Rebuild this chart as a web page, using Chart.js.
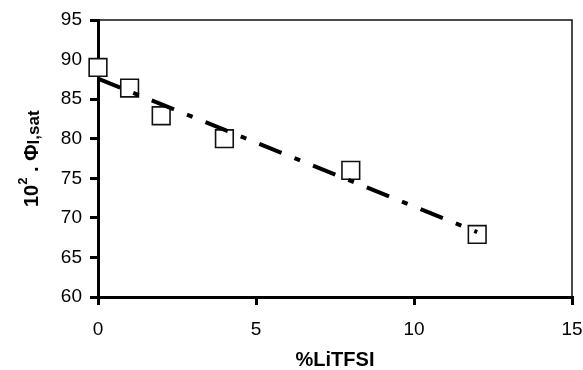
<!DOCTYPE html>
<html>
<head>
<meta charset="utf-8">
<script src="https://cdn.jsdelivr.net/npm/chart.js@4.4.1/dist/chart.umd.min.js"></script>
<style>
  html, body { margin: 0; padding: 0; background: #fff; }
</style>
</head>
<body>
<canvas id="grafico" width="583" height="370"></canvas>
<script>
// Dados
const pctLiTFSI = [0, 1, 2, 4, 8, 12];
const phiSat = [89, 86.4, 82.9, 80, 76, 67.9];

// Linha de tendência (extremos)
const tendenciaX = [0, 12];
const tendenciaY = [87.6, 68.2];

// Eixos
const eixoX = { min: 0, max: 15, passo: 5 };
const eixoY = { min: 60, max: 95, passo: 5 };

const tituloX = '%LiTFSI';

const FONTE = '"Liberation Sans", Arial, sans-serif';

// =========================================
// Plugin: moldura + títulos dos eixos
// =========================================
const extras = {
    id: 'extras',
    beforeDraw(chart) {
        const c = chart.ctx;
        c.save();
        c.fillStyle = '#fff';
        c.fillRect(0, 0, chart.width, chart.height);
        c.restore();
    },
    beforeDatasetsDraw(chart) {
        const c = chart.ctx;
        const a = chart.chartArea;
        c.save();
        c.strokeStyle = '#111';
        c.lineWidth = 1.5;
        c.beginPath();
        c.moveTo(a.left, a.top);
        c.lineTo(a.right, a.top);
        c.lineTo(a.right, a.bottom);
        c.stroke();
        c.restore();
    },
    afterDraw(chart) {
        const c = chart.ctx;
        const a = chart.chartArea;
        c.save();
        c.fillStyle = '#000';

        // título do eixo X
        c.font = 'bold 20px ' + FONTE;
        c.textAlign = 'center';
        c.textBaseline = 'alphabetic';
        c.fillText(tituloX, (a.left + a.right) / 2, 366);

        // título do eixo Y (rodado, com expoente e índice)
        c.translate(38, 207);
        c.rotate(-Math.PI / 2);
        c.textAlign = 'left';
        let x = 0;
        const pedaco = (txt, tam, dy) => {
            c.font = 'bold ' + tam + 'px ' + FONTE;
            c.fillText(txt, x, dy);
            x += c.measureText(txt).width;
        };
        pedaco('10', 20, 0);
        pedaco('2', 13, -11);
        pedaco(' . ', 20, 0);
        pedaco('\u03A6', 20, 0);
        pedaco('l,sat', 17, 1);
        c.restore();
    }
};

const ctx = document.getElementById('grafico').getContext('2d');

new Chart(ctx, {
    type: 'scatter',
    plugins: [extras],
    data: {
        datasets: [{
            label: 'tendência',
            data: tendenciaX.map((x, i) => ({ x: x, y: tendenciaY[i] })),
            showLine: true,
            borderColor: '#000',
            borderWidth: 4,
            borderDash: [24, 14, 6, 14],
            pointRadius: 0,
            fill: false,
            order: 0,
            clip: false
        }, {
            label: 'phi',
            data: pctLiTFSI.map((x, i) => ({ x: x, y: phiSat[i] })),
            pointStyle: 'rect',
            pointRadius: 12.5,
            pointBackgroundColor: '#fff',
            pointBorderColor: '#111',
            pointBorderWidth: 1.6,
            showLine: false,
            order: 1,
            clip: false
        }]
    },
    options: {
        responsive: false,
        animation: false,
        devicePixelRatio: 1,
        layout: { autoPadding: false, padding: { left: 0, top: 20, right: 0, bottom: 0 } },
        plugins: {
            legend: { display: false },
            tooltip: { enabled: false }
        },
        scales: {
            x: {
                type: 'linear',
                min: eixoX.min,
                max: eixoX.max,
                afterFit: s => {
                    s.height = 73;
                    s.paddingLeft = 0;
                    s.paddingRight = 11;
                },
                ticks: {
                    stepSize: eixoX.passo,
                    color: '#000',
                    padding: 13,
                    maxRotation: 0,
                    font: { family: FONTE, size: 19 }
                },
                grid: {
                    drawOnChartArea: false,
                    drawTicks: true,
                    tickLength: 8,
                    color: '#000',
                    lineWidth: 3
                },
                border: { display: true, color: '#000', width: 3 }
            },
            y: {
                type: 'linear',
                min: eixoY.min,
                max: eixoY.max,
                afterFit: s => { s.width = 98; },
                ticks: {
                    stepSize: eixoY.passo,
                    color: '#000',
                    padding: 8,
                    font: { family: FONTE, size: 19 }
                },
                grid: {
                    drawOnChartArea: false,
                    drawTicks: true,
                    tickLength: 8,
                    color: '#000',
                    lineWidth: 3
                },
                border: { display: true, color: '#000', width: 3 }
            }
        }
    }
});
</script>
</body>
</html>
